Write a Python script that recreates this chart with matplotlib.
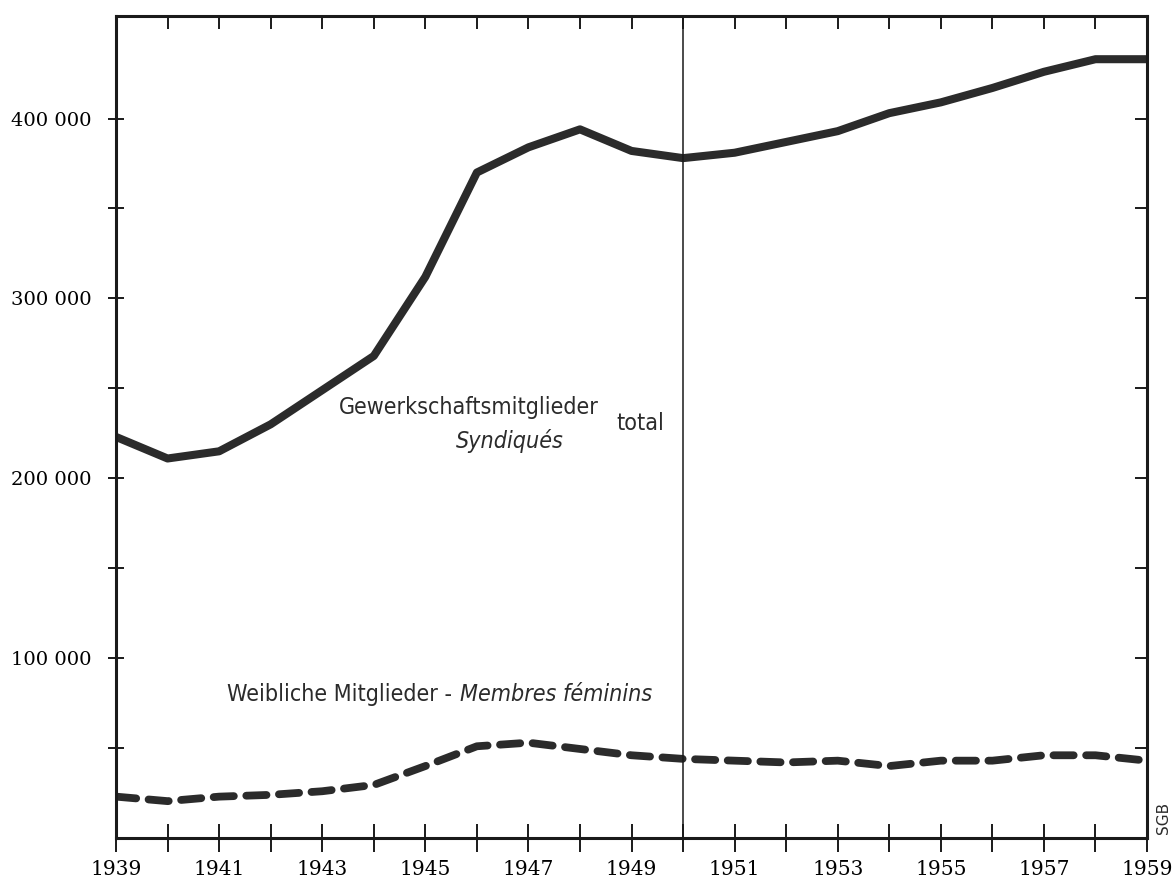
import numpy as np
import matplotlib.pyplot as plt
import matplotlib.ticker as ticker

# ── Data ──────────────────────────────────────────────────────────────────────
years = list(range(1939, 1960))
total_members = [223000, 211000, 215000, 230000, 249000, 268000, 312000, 370000,
                 384000, 394000, 382000, 378000, 381000, 387000, 393000, 403000,
                 409000, 417000, 426000, 433000, 433000]
female_members = [23000, 20500, 23000, 24000, 26000, 29500, 40000, 51000,
                  53000, 49500, 46000, 44000, 43000, 42000, 43000, 40000,
                  43000, 43000, 46000, 46000, 43000]

year_labels = [str(y) for y in range(1939, 1960, 2)]
y_label_values = [100000, 200000, 300000, 400000]
y_labels = ["100 000", "200 000", "300 000", "400 000"]

INK = "#2b2b2b"
HAND = ["DejaVu Sans"]
SERIF = ["DejaVu Serif"]

fig = plt.figure(figsize=(11.72, 8.81), dpi=100)
ax = fig.add_axes([0.099, 0.0488, 0.8797, 0.933])

ax.plot(years, total_members, color=INK, lw=5.8, solid_capstyle="butt",
        solid_joinstyle="round")
ax.plot(years, female_members, color=INK, lw=5.6, dashes=(2.6, 1.6),
        dash_capstyle="round")

ax.axvline(1950, color="#1a1a1a", lw=1.1)

ax.set_xlim(1939, 1959)
ax.set_ylim(0, 457000)

for s in ax.spines.values():
    s.set_linewidth(2.2)
    s.set_color("#1a1a1a")

# bottom axis: ticks every year, labels every second year
ax.xaxis.set_major_locator(ticker.FixedLocator(range(1939, 1960, 2)))
ax.xaxis.set_minor_locator(ticker.FixedLocator(range(1940, 1959, 2)))
ax.set_xticklabels(year_labels, family=SERIF, fontsize=14.5)
ax.tick_params(axis="x", which="both", direction="inout", length=20, width=1.4,
               pad=6, color="#1a1a1a")

# left axis: ticks every 50 000, labels every 100 000
ax.yaxis.set_major_locator(ticker.FixedLocator(y_label_values))
ax.yaxis.set_minor_locator(ticker.FixedLocator([50000, 150000, 250000, 350000]))
ax.set_yticklabels(y_labels, family=SERIF, fontsize=14)
ax.tick_params(axis="y", which="both", direction="inout", length=11, width=1.4,
               pad=12, color="#1a1a1a")

# top and right: inward ticks only
top = ax.secondary_xaxis("top")
top.set_xticks(range(1940, 1959))
top.tick_params(direction="in", length=9, width=1.4, labeltop=False, color="#1a1a1a")
top.spines["top"].set_visible(False)
right = ax.secondary_yaxis("right")
right.set_yticks(range(50000, 450000, 50000))
right.tick_params(direction="in", length=9, width=1.4, labelright=False, color="#1a1a1a")
right.spines["right"].set_visible(False)

# hand-lettered labels (condensed lettering)
hand = dict(family=HAND, fontsize=16.7, fontstretch="condensed", color=INK)
ax.text(1943.32, 239500, "Gewerkschaftsmitglieder", va="center", ha="left", **hand)
ax.text(1945.6, 220500, "Syndiqués", style="italic", va="center", ha="left", **hand)
ax.text(1948.7, 230500, "total", va="center", ha="left", **hand)
w1 = ax.text(1941.15, 80000, "Weibliche Mitglieder -", va="center", ha="left", **hand)
ax.annotate("Membres féminins", xy=(1, 0.5), xycoords=w1, xytext=(6, 0),
            textcoords="offset points", va="center", ha="left", style="italic",
            **hand)

fig.text(0.9925, 0.072, "SGB", family=HAND, fontsize=11, rotation=90,
         color=INK, ha="center", va="center")

fig.savefig("out.png", dpi=100)
